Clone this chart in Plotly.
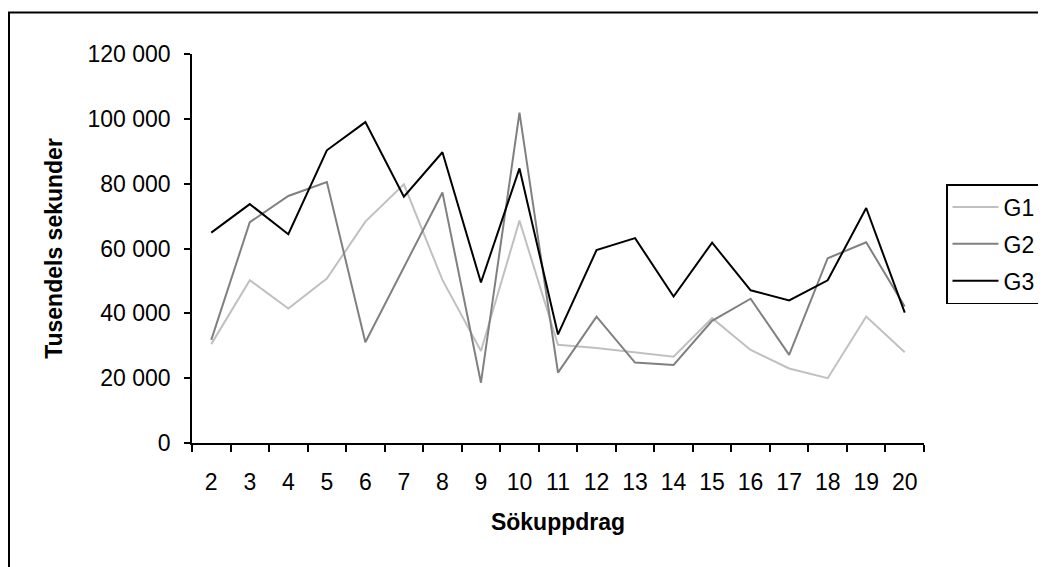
import plotly.graph_objects as go

categories = [str(i) for i in range(2, 21)]
g1 = [30500, 50200, 41500, 50700, 68300, 79800, 50300, 28400, 68600, 30300,
      29300, 27900, 26600, 38500, 28700, 23000, 20000, 39000, 28000]
g2 = [31800, 68100, 76200, 80500, 31100, 54000, 77300, 18600, 101900, 21700,
      39000, 24800, 24100, 37700, 44500, 27200, 57000, 61900, 42100]
g3 = [64900, 73700, 64400, 90300, 99000, 76000, 89700, 49500, 84700, 33500,
      59500, 63200, 45200, 61800, 47100, 44000, 50200, 72500, 40200]
series_names = ["G1", "G2", "G3"]
series_colors = ["#c0c0c0", "#808080", "#000000"]

W, H = 1046, 567
OFF = 8  # page body margin
L, R, T, B = 192 - OFF, 924 - OFF, 54 - OFF, 443 - OFF

fig = go.Figure()
for name, vals, col in zip(series_names, [g1, g2, g3], series_colors):
    fig.add_trace(go.Scatter(x=categories, y=vals, mode="lines", name=name,
                             legendgroup=name,
                             line=dict(color=col, width=2)))

pw, ph = R - L, B - T
fig.add_shape(type="rect", xref="paper", yref="paper",
              x0=(1 - L) / pw, x1=(W + 40 - L) / pw,
              y0=(B - (H + 40)) / ph, y1=(B - (12.5 - OFF)) / ph,
              line=dict(color="black", width=2), fillcolor="rgba(0,0,0,0)",
              layer="below")

FS = 23
fig.update_layout(
    width=W, height=H,
    margin=dict(l=L, r=W - R, t=T, b=H - B, pad=0, autoexpand=False),
    paper_bgcolor="white", plot_bgcolor="white",
    font=dict(family="Liberation Sans, Arial, sans-serif", size=FS, color="black"),
    separators=". ",
    showlegend=True,
    legend=dict(x=(946 - OFF - L) / pw, y=(B - (184 - OFF)) / ph,
                xanchor="left", yanchor="top",
                bordercolor="black", borderwidth=1.5, bgcolor="white",
                font=dict(size=FS), tracegroupgap=4, itemwidth=46),
    xaxis=dict(type="category", range=[-0.5, 18.5], showline=True, linecolor="black",
               linewidth=1.5, ticks="outside", tickson="boundaries", ticklen=7,
               tickcolor="black", tickwidth=1.5, showgrid=False, zeroline=False,
               tickfont=dict(size=FS), ticklabelstandoff=18, automargin=False,
               title=dict(text="<b>Sökuppdrag</b>", font=dict(size=FS), standoff=20)),
    yaxis=dict(range=[0, 120000], dtick=20000, tickformat=",d", showline=True,
               linecolor="black", linewidth=1.5, ticks="outside", ticklen=6,
               tickcolor="black", tickwidth=1.5, showgrid=False, zeroline=False,
               tickfont=dict(size=FS), ticklabelstandoff=9, automargin=False,
               title=dict(text="<b>Tusendels sekunder</b>", font=dict(size=FS), standoff=18)),
)

fig.write_html("out.html")
